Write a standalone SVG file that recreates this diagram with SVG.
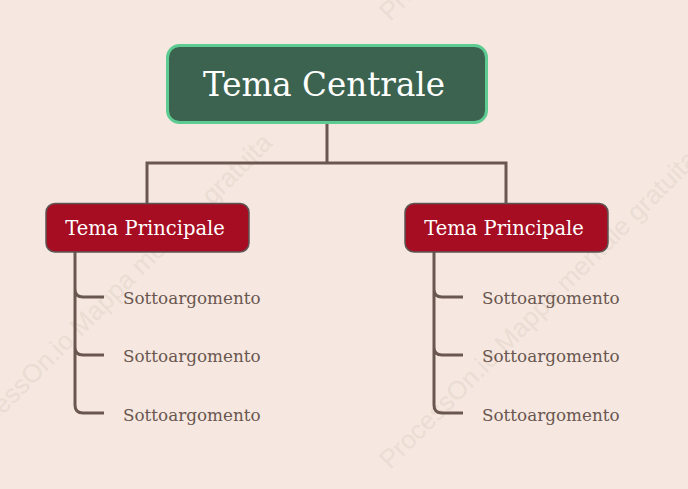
<svg xmlns="http://www.w3.org/2000/svg" width="688" height="489" viewBox="0 0 688 489">
<style>
.bg{fill:#f6e8e0}
.wm{font-family:"Liberation Sans",Arial,sans-serif;font-size:26px;fill:#ebdcd4}
.conn{fill:none;stroke:#6a5750;stroke-width:3}
.main{fill:#a60c22;stroke:#5e5454;stroke-width:1.5}
.mainText{font-family:"DejaVu Serif","Liberation Serif",serif;font-size:19.5px;fill:#ffffff;text-anchor:middle}
.subText{font-family:"DejaVu Serif","Liberation Serif",serif;font-size:16.8px;fill:#6a5750}
</style>
<rect class="bg" x="0" y="0" width="688" height="489"/>
<g id="watermarks">
<text class="wm" transform="translate(-35,453) rotate(-45)">ProcessOn.io Mappa mentale gratuita</text>
<text class="wm" transform="translate(390,470) rotate(-45)">ProcessOn.io Mappa mentale gratuita</text>
<text class="wm" transform="translate(390,22) rotate(-45)">ProcessOn.io Mappa mentale gratuita</text>
</g>
<g id="connectors">
<path class="conn" d="M327 123 V163 M147 203 V163 H506 V203"/>
<path class="conn" d="M75 252 V405 Q75 413 83 413 H104 M75 289 Q75 297 83 297 H104 M75 347 Q75 355 83 355 H104"/>
<path class="conn" d="M434 252 V405 Q434 413 442 413 H463 M434 289 Q434 297 442 297 H463 M434 347 Q434 355 442 355 H463"/>
</g>
<g id="central">
<rect x="167.5" y="45.5" width="319" height="77" rx="12" fill="#3c634f" stroke="#5ecb92" stroke-width="3"/>
<text x="324" y="96" font-family="DejaVu Serif,'Liberation Serif',serif" font-size="32.6" fill="#ffffff" text-anchor="middle">Tema Centrale</text>
</g>
<g id="main-left">
<rect class="main" x="46" y="203.5" width="203" height="48.5" rx="9"/>
<text class="mainText" x="145" y="235">Tema Principale</text>
</g>
<g id="main-right">
<rect class="main" x="405" y="203.5" width="203" height="48.5" rx="9"/>
<text class="mainText" x="504" y="235">Tema Principale</text>
</g>
<g id="sub-left-1"><text class="subText" x="123" y="304">Sottoargomento</text></g>
<g id="sub-left-2"><text class="subText" x="123" y="362">Sottoargomento</text></g>
<g id="sub-left-3"><text class="subText" x="123" y="421">Sottoargomento</text></g>
<g id="sub-right-1"><text class="subText" x="482" y="304">Sottoargomento</text></g>
<g id="sub-right-2"><text class="subText" x="482" y="362">Sottoargomento</text></g>
<g id="sub-right-3"><text class="subText" x="482" y="421">Sottoargomento</text></g>
</svg>
